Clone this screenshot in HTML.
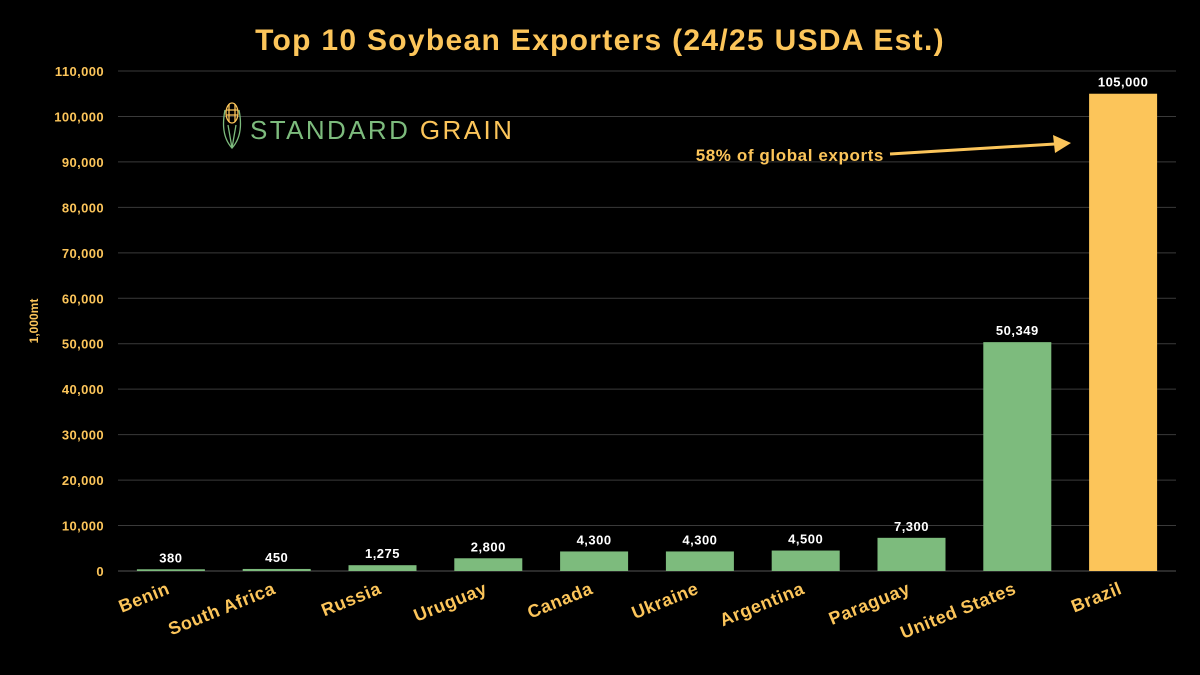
<!DOCTYPE html>
<html><head><meta charset="utf-8"><style>
html,body{margin:0;padding:0;background:#000;}
svg{display:block;font-family:"Liberation Sans",sans-serif;}
</style></head><body>
<svg id="chart" width="1200" height="675">
<rect width="1200" height="675" fill="#000"/>
<text x="600" y="50" text-anchor="middle" fill="#fcc55a" font-size="30" font-weight="bold" letter-spacing="1.3">Top 10 Soybean Exporters (24/25 USDA Est.)</text>
<text transform="translate(38,321) rotate(-90)" text-anchor="middle" fill="#fcc55a" font-size="12" font-weight="bold">1,000mt</text>
<g id="grid"></g>
<g id="yticks"></g>
<g id="bars"></g>
<g id="xlabels"></g>
<g>
 <g fill="none" stroke-width="1.3">
  <ellipse cx="232" cy="113" rx="6" ry="10" stroke="#fcc55a"/>
  <path d="M226 110 h12 M226 115 h12 M229 104 v18 M235 104 v18" stroke="#fcc55a"/>
  <path d="M225 110 Q220 135 232 148 Q244 135 239 110" stroke="#7dbb7d"/>
  <path d="M232 148 L228 125 M232 148 L236 125" stroke="#7dbb7d"/>
 </g>
 <text x="250" y="139" font-size="26" letter-spacing="2.4"><tspan fill="#7dbb7d">STANDARD</tspan><tspan fill="#fcc55a"> GRAIN</tspan></text>
</g>
<g>
 <text x="884" y="161" text-anchor="end" fill="#fcc55a" font-size="17" font-weight="bold" letter-spacing="0.6">58% of global exports</text>
 <line x1="890" y1="154" x2="1055" y2="144" stroke="#fcc55a" stroke-width="3"/>
 <polygon points="1071,143 1053,135 1055,153" fill="#fcc55a"/>
</g>
</svg>
<script>
const categories=["Benin","South Africa","Russia","Uruguay","Canada","Ukraine","Argentina","Paraguay","United States","Brazil"];
const values=[380,450,1275,2800,4300,4300,4500,7300,50349,105000];
const valueLabels=["380","450","1,275","2,800","4,300","4,300","4,500","7,300","50,349","105,000"];
const yTicks=[0,10000,20000,30000,40000,50000,60000,70000,80000,90000,100000,110000];
const NS="http://www.w3.org/2000/svg";
const x0=118,x1=1176,yb=571,yt=71,yMax=110000;
const step=(x1-x0)/categories.length,bw=68;
function y(v){return yb-(v/yMax)*(yb-yt);}
function xc(i){return x0+step*(i+0.5);}
function mk(t,a,p){const e=document.createElementNS(NS,t);for(const k in a)e.setAttribute(k,a[k]);p.appendChild(e);return e;}
const grid=document.getElementById('grid'),yt_=document.getElementById('yticks'),bars=document.getElementById('bars'),xl=document.getElementById('xlabels');
yTicks.forEach(v=>{
 const l=mk('line',{x1:x0,x2:x1,y1:y(v),y2:y(v),stroke:v===0?'#555':'#3a3a3a','stroke-width':1},grid);
 
 
 const t=mk('text',{x:104,y:y(v)+5,'text-anchor':'end',fill:'#fcc55a','font-size':13,'font-weight':'bold','letter-spacing':0.4},yt_);
 t.textContent=v.toLocaleString('en-US');
 
 
});
values.forEach((v,i)=>{
 const r=mk('rect',{x:xc(i)-bw/2,y:y(v),width:bw,height:Math.max(1.5,yb-y(v)),fill:i===values.length-1?'#fcc55a':'#7dbb7d'},bars);
 
 
 const t=mk('text',{x:xc(i),y:y(v)-7,'text-anchor':'middle',fill:'#fff','font-size':13,'font-weight':'bold','letter-spacing':0.5},bars);
 t.textContent=valueLabels[i];
 
 
 const c=mk('text',{transform:`translate(${xc(i)},${yb+22}) rotate(-22)`,'text-anchor':'end',fill:'#fcc55a','font-size':18,'font-weight':'bold','letter-spacing':0.6},xl);
 c.textContent=categories[i];
 
 
});
</script>
</body></html>
